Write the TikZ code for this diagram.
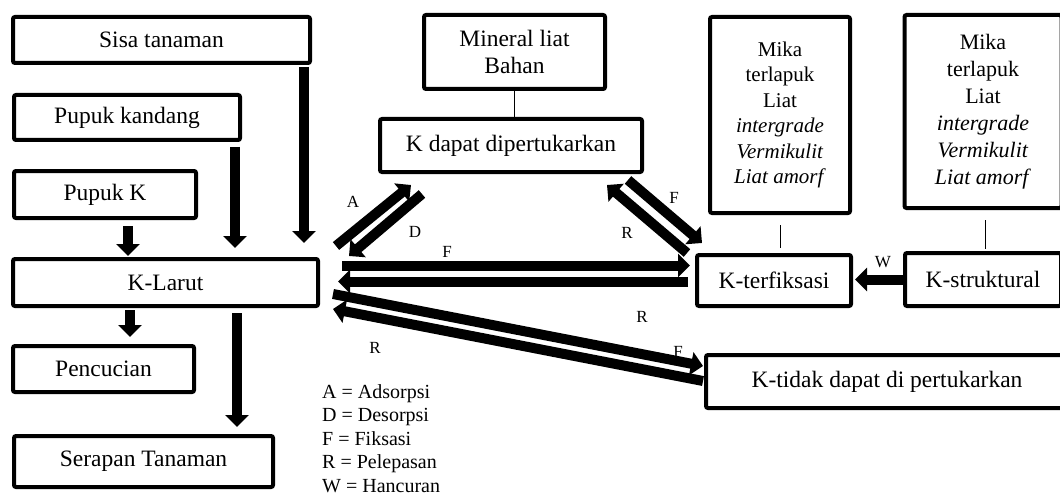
\documentclass[tikz,border=0pt]{standalone}
\usepackage{fontspec}
\setmainfont{Liberation Serif}
\usetikzlibrary{arrows.meta}
\tikzset{
  kotak/.style={draw,line width=4pt,rounded corners=2pt,inner sep=2pt,outer sep=0pt,align=center,font=\fontsize{23.5}{27}\selectfont},
  kotakmika/.style={kotak,font=\fontsize{21}{25.5}\selectfont},
  alir/.style={line width=10pt,-{Triangle[length=12pt,width=23pt]}},
  garis/.style={line width=1pt},
  huruf/.style={font=\fontsize{17}{20}\selectfont,inner sep=0pt},
  keterangan/.style={align=left,inner sep=0pt,font=\fontsize{20}{23.5}\selectfont}
}
\begin{document}
\begin{tikzpicture}[x=1pt,y=-1pt]
\useasboundingbox (0,0) rectangle (1060,500);
% kotak sumber K
\node[kotak,minimum width=297pt,minimum height=46pt] (sisa) at (161.5,40) {Sisa tanaman};
\node[kotak,minimum width=226pt,minimum height=45pt] (kandang) at (127,117.5) {Pupuk kandang};
\node[kotak,minimum width=182pt,minimum height=47pt] (pupukk) at (105,194.5) {Pupuk K};
\node[kotak,minimum width=305pt,minimum height=47pt] (larut) at (165.5,282.5) {K-Larut};
\node[kotak,minimum width=181pt,minimum height=46pt] (cuci) at (103.5,369) {Pencucian};
\node[kotak,minimum width=259pt,minimum height=51pt] (serapan) at (143.5,461.5) {Serapan Tanaman};
% kotak bentuk K
\node[kotak,minimum width=181pt,minimum height=74pt] (mineral) at (514.5,52) {Mineral liat\\Bahan};
\node[kotak,minimum width=262pt,minimum height=53pt] (dapat) at (511,145.5) {K dapat dipertukarkan};
\node[kotakmika,minimum width=140pt,minimum height=196pt] (mikaA) at (780,115) {Mika\\terlapuk\\Liat\\\textit{intergrade}\\\textit{Vermikulit}\\\textit{Liat amorf}};
\node[kotakmika,minimum width=157pt,minimum height=193pt,font=\fontsize{22}{27}\selectfont] (mikaB) at (983,111.5) {Mika\\terlapuk\\Liat\\\textit{intergrade}\\\textit{Vermikulit}\\\textit{Liat amorf}};
\node[kotak,minimum width=154pt,minimum height=51pt] (terfiksasi) at (774,280.5) {K-terfiksasi};
\node[kotak,minimum width=156pt,minimum height=53pt] (struktural) at (983,279.5) {K-struktural};
\node[kotak,minimum width=362pt,minimum height=53pt] (tidak) at (887,381.5) {K-tidak dapat di pertukarkan};
% panah masuk dan keluar K-Larut
\draw[alir] ([xshift=23pt,yshift=-8pt]pupukk.south) -- ([xshift=-37.5pt,yshift=3pt]larut.north);
\draw[alir] ([xshift=-5pt,yshift=-7pt]kandang.south east) -- ([xshift=69.5pt,yshift=11pt]larut.north);
\draw[alir] ([xshift=-6pt,yshift=-4pt]sisa.south east) -- ([xshift=-14pt,yshift=16pt]larut.north east);
\draw[alir] ([xshift=-35.5pt,yshift=-4pt]larut.south) -- ([xshift=26.5pt,yshift=9pt]cuci.north);
\draw[alir] ([xshift=71.5pt,yshift=-7pt]larut.south) -- ([xshift=93.5pt,yshift=9pt]serapan.north);
% garis tipis
\draw[garis] (mineral.south) -- (mineral.south |- dapat.north);
\draw[garis] ([yshift=-12pt]mikaA.south) -- ([xshift=6pt,yshift=7pt]terfiksasi.north);
\draw[garis] ([xshift=2pt,yshift=-12pt]mikaB.south) -- ([xshift=2pt,yshift=4pt]struktural.north);
% panah bolak-balik
\draw[alir] ([xshift=18pt,yshift=13pt]larut.north east) -- ([xshift=31pt,yshift=-13pt]dapat.south west);
\draw[alir] ([xshift=42pt,yshift=-22pt]dapat.south west) -- ([xshift=31pt,yshift=3pt]larut.north east);
\draw[alir] ([xshift=-10pt,yshift=2pt]terfiksasi.north west) -- ([xshift=-35pt,yshift=-13pt]dapat.south east);
\draw[alir] ([xshift=-14pt,yshift=-8pt]dapat.south east) -- ([xshift=5pt,yshift=12pt]terfiksasi.north west);
\draw[alir] ([xshift=24pt,yshift=17pt]larut.east) -- ([xshift=-7pt,yshift=15pt]terfiksasi.west);
\draw[alir] ([xshift=-9pt,yshift=-1pt]terfiksasi.west) -- ([xshift=20pt,yshift=1pt]larut.east);
\draw[alir] ([xshift=15pt,yshift=-11.5pt]larut.east) -- ([xshift=-3pt,yshift=15.5pt]tidak.west);
\draw[alir] ([xshift=-3pt,yshift=0.5pt]tidak.west) -- ([xshift=15pt,yshift=-26.5pt]larut.east);
\draw[alir] (struktural.west) -- ([xshift=4pt]struktural.west -| terfiksasi.east);
% huruf proses
\node[huruf] (hA) at (353,202) {A};
\node[huruf] (hD) at (415,232) {D};
\node[huruf] (hF1) at (447,252) {F};
\node[huruf] (hR1) at (627,233) {R};
\node[huruf] (hF2) at (674,198) {F};
\node[huruf] (hR2) at (642,317) {R};
\node[huruf] (hR3) at (375,348) {R};
\node[huruf] (hF3) at (678,352) {F};
\node[huruf] (hW) at (883,262) {W};
% keterangan
\node[keterangan,anchor=north west] (legenda) at (322,384) {A = Adsorpsi\\D = Desorpsi\\F = Fiksasi\\R = Pelepasan\\W = Hancuran};
\end{tikzpicture}
\end{document}
